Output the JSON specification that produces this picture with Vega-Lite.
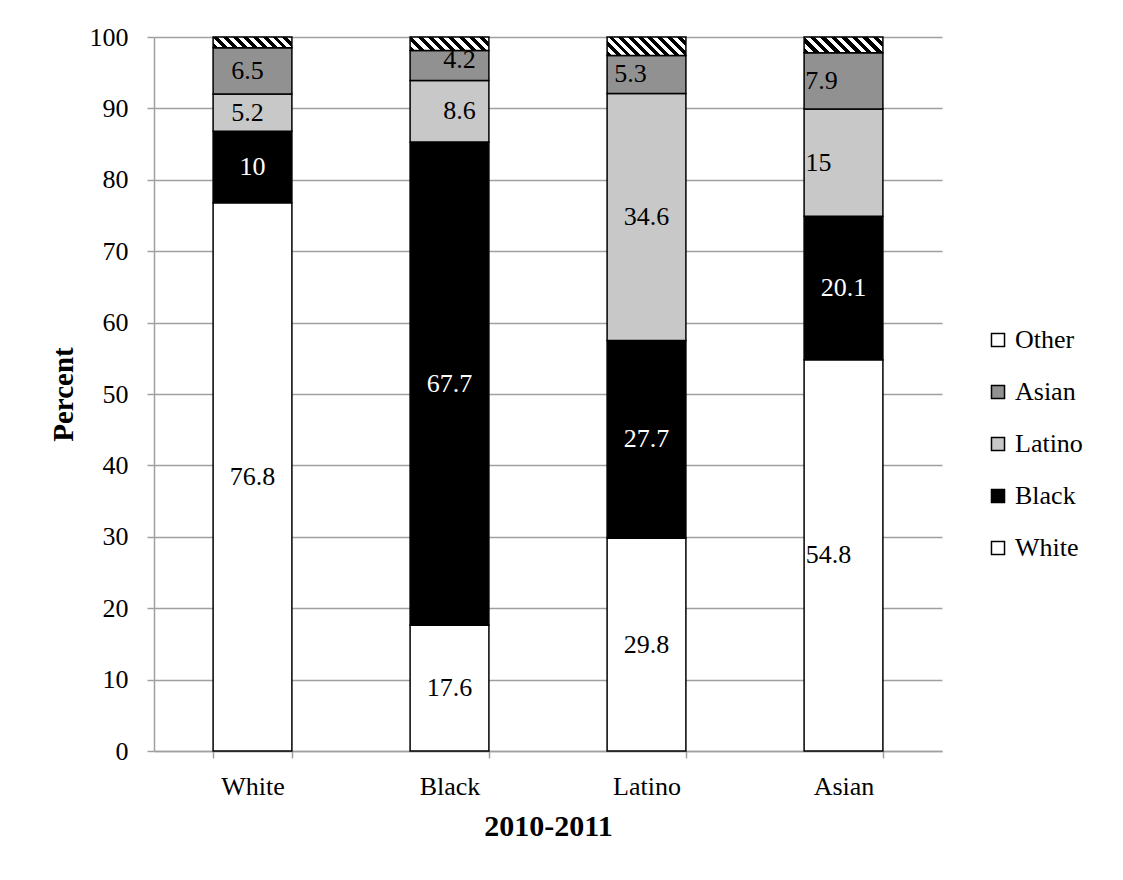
{
  "$schema": "https://vega.github.io/schema/vega-lite/v6.json",
  "width": 788,
  "height": 714,
  "autosize": {"type": "none"},
  "padding": {"left": 154, "top": 37, "right": 181, "bottom": 129},
  "background": "white",
  "config": {
    "font": "Liberation Serif",
    "view": {"stroke": null},
    "axis": {
      "labelFont": "Liberation Serif",
      "labelFontSize": 26,
      "labelColor": "#000000",
      "titleFont": "Liberation Serif",
      "titleFontWeight": "bold",
      "titleColor": "#000000",
      "domainColor": "#a0a0a0",
      "domainWidth": 1.5,
      "tickColor": "#a0a0a0",
      "tickWidth": 1.5,
      "tickSize": 7,
      "gridColor": "#a0a0a0",
      "gridWidth": 1.5
    }
  },
  "data": {
    "values": [
      {"cat": "White", "group": "White", "pct": 76.8},
      {"cat": "White", "group": "Black", "pct": 10},
      {"cat": "White", "group": "Latino", "pct": 5.2},
      {"cat": "White", "group": "Asian", "pct": 6.5},
      {"cat": "White", "group": "Other", "pct": 1.5},
      {"cat": "Black", "group": "White", "pct": 17.6},
      {"cat": "Black", "group": "Black", "pct": 67.7},
      {"cat": "Black", "group": "Latino", "pct": 8.6},
      {"cat": "Black", "group": "Asian", "pct": 4.2},
      {"cat": "Black", "group": "Other", "pct": 1.9},
      {"cat": "Latino", "group": "White", "pct": 29.8},
      {"cat": "Latino", "group": "Black", "pct": 27.7},
      {"cat": "Latino", "group": "Latino", "pct": 34.6},
      {"cat": "Latino", "group": "Asian", "pct": 5.3},
      {"cat": "Latino", "group": "Other", "pct": 2.6},
      {"cat": "Asian", "group": "White", "pct": 54.8},
      {"cat": "Asian", "group": "Black", "pct": 20.1},
      {"cat": "Asian", "group": "Latino", "pct": 15},
      {"cat": "Asian", "group": "Asian", "pct": 7.9},
      {"cat": "Asian", "group": "Other", "pct": 2.2}
    ]
  },
  "transform": [
    {"calculate": "indexof(['White','Black','Latino','Asian','Other'], datum.group)", "as": "k"},
    {"stack": "pct", "groupby": ["cat"], "sort": [{"field": "k", "order": "ascending"}], "as": ["y0", "y1"]},
    {"calculate": "(datum.y0 + datum.y1) / 2", "as": "ymid"}
  ],
  "encoding": {
    "x": {
      "field": "cat",
      "type": "nominal",
      "sort": ["White", "Black", "Latino", "Asian"],
      "scale": {"paddingInner": 0.6, "paddingOuter": 0.3},
      "axis": {
        "title": "2010-2011",
        "titleFontSize": 30,
        "titlePadding": 12,
        "labelAngle": 0,
        "labelPadding": 15,
        "tickBand": "extent",
        "grid": false
      }
    }
  },
  "layer": [
    {
      "mark": {"type": "bar", "stroke": "#000000", "strokeWidth": 1.5},
      "encoding": {
        "y": {
          "field": "y0",
          "type": "quantitative",
          "scale": {"domain": [0, 100], "nice": false},
          "axis": {
            "title": "Percent",
            "titleFontSize": 29,
            "titlePadding": 11,
            "labelPadding": 19,
            "values": [0, 10, 20, 30, 40, 50, 60, 70, 80, 90, 100],
            "grid": true
          }
        },
        "y2": {"field": "y1"},
        "fill": {
          "field": "group",
          "type": "nominal",
          "scale": {
            "domain": ["White", "Black", "Latino", "Asian", "Other"],
            "range": ["#ffffff", "#000000", "#c8c8c8", "#919191", "#ffffff"]
          },
          "legend": {
            "title": null,
            "orient": "none",
            "legendX": 831,
            "legendY": 290,
            "padding": 0,
            "values": ["Other", "Asian", "Latino", "Black", "White"],
            "symbolType": "square",
            "symbolSize": 170,
            "symbolStrokeColor": "#000000",
            "symbolStrokeWidth": 1.5,
            "labelFont": "Liberation Serif",
            "labelFontSize": 26,
            "labelColor": "#000000",
            "labelOffset": 4,
            "rowPadding": 26
          },
          "condition": [
            {
              "test": "datum.group === 'Other' && datum.cat === 'White'",
              "value": {
                "gradient": "linear", "x1": 0, "y1": 1, "x2": 1.1153, "y2": 0.8484,
                "stops": [
                  {"offset": 0, "color": "#000000"}, {"offset": 0.0556, "color": "#000000"}, {"offset": 0.0556, "color": "#ffffff"}, {"offset": 0.1111, "color": "#ffffff"},
                  {"offset": 0.1111, "color": "#000000"}, {"offset": 0.1667, "color": "#000000"}, {"offset": 0.1667, "color": "#ffffff"}, {"offset": 0.2222, "color": "#ffffff"},
                  {"offset": 0.2222, "color": "#000000"}, {"offset": 0.2778, "color": "#000000"}, {"offset": 0.2778, "color": "#ffffff"}, {"offset": 0.3333, "color": "#ffffff"},
                  {"offset": 0.3333, "color": "#000000"}, {"offset": 0.3889, "color": "#000000"}, {"offset": 0.3889, "color": "#ffffff"}, {"offset": 0.4444, "color": "#ffffff"},
                  {"offset": 0.4444, "color": "#000000"}, {"offset": 0.5, "color": "#000000"}, {"offset": 0.5, "color": "#ffffff"}, {"offset": 0.5556, "color": "#ffffff"},
                  {"offset": 0.5556, "color": "#000000"}, {"offset": 0.6111, "color": "#000000"}, {"offset": 0.6111, "color": "#ffffff"}, {"offset": 0.6667, "color": "#ffffff"},
                  {"offset": 0.6667, "color": "#000000"}, {"offset": 0.7222, "color": "#000000"}, {"offset": 0.7222, "color": "#ffffff"}, {"offset": 0.7778, "color": "#ffffff"},
                  {"offset": 0.7778, "color": "#000000"}, {"offset": 0.8333, "color": "#000000"}, {"offset": 0.8333, "color": "#ffffff"}, {"offset": 0.8889, "color": "#ffffff"},
                  {"offset": 0.8889, "color": "#000000"}, {"offset": 0.9444, "color": "#000000"}, {"offset": 0.9444, "color": "#ffffff"}, {"offset": 1, "color": "#ffffff"}
                ]
              }
            },
            {
              "test": "datum.group === 'Other' && datum.cat === 'Black'",
              "value": {
                "gradient": "linear", "x1": 0, "y1": 1, "x2": 1.1384, "y2": 0.804,
                "stops": [
                  {"offset": 0, "color": "#000000"}, {"offset": 0.0556, "color": "#000000"}, {"offset": 0.0556, "color": "#ffffff"}, {"offset": 0.1111, "color": "#ffffff"},
                  {"offset": 0.1111, "color": "#000000"}, {"offset": 0.1667, "color": "#000000"}, {"offset": 0.1667, "color": "#ffffff"}, {"offset": 0.2222, "color": "#ffffff"},
                  {"offset": 0.2222, "color": "#000000"}, {"offset": 0.2778, "color": "#000000"}, {"offset": 0.2778, "color": "#ffffff"}, {"offset": 0.3333, "color": "#ffffff"},
                  {"offset": 0.3333, "color": "#000000"}, {"offset": 0.3889, "color": "#000000"}, {"offset": 0.3889, "color": "#ffffff"}, {"offset": 0.4444, "color": "#ffffff"},
                  {"offset": 0.4444, "color": "#000000"}, {"offset": 0.5, "color": "#000000"}, {"offset": 0.5, "color": "#ffffff"}, {"offset": 0.5556, "color": "#ffffff"},
                  {"offset": 0.5556, "color": "#000000"}, {"offset": 0.6111, "color": "#000000"}, {"offset": 0.6111, "color": "#ffffff"}, {"offset": 0.6667, "color": "#ffffff"},
                  {"offset": 0.6667, "color": "#000000"}, {"offset": 0.7222, "color": "#000000"}, {"offset": 0.7222, "color": "#ffffff"}, {"offset": 0.7778, "color": "#ffffff"},
                  {"offset": 0.7778, "color": "#000000"}, {"offset": 0.8333, "color": "#000000"}, {"offset": 0.8333, "color": "#ffffff"}, {"offset": 0.8889, "color": "#ffffff"},
                  {"offset": 0.8889, "color": "#000000"}, {"offset": 0.9444, "color": "#000000"}, {"offset": 0.9444, "color": "#ffffff"}, {"offset": 1, "color": "#ffffff"}
                ]
              }
            },
            {
              "test": "datum.group === 'Other' && datum.cat === 'Latino'",
              "value": {
                "gradient": "linear", "x1": 0, "y1": 1, "x2": 1.1706, "y2": 0.7242,
                "stops": [
                  {"offset": 0, "color": "#000000"}, {"offset": 0.05, "color": "#000000"}, {"offset": 0.05, "color": "#ffffff"}, {"offset": 0.1, "color": "#ffffff"},
                  {"offset": 0.1, "color": "#000000"}, {"offset": 0.15, "color": "#000000"}, {"offset": 0.15, "color": "#ffffff"}, {"offset": 0.2, "color": "#ffffff"},
                  {"offset": 0.2, "color": "#000000"}, {"offset": 0.25, "color": "#000000"}, {"offset": 0.25, "color": "#ffffff"}, {"offset": 0.3, "color": "#ffffff"},
                  {"offset": 0.3, "color": "#000000"}, {"offset": 0.35, "color": "#000000"}, {"offset": 0.35, "color": "#ffffff"}, {"offset": 0.4, "color": "#ffffff"},
                  {"offset": 0.4, "color": "#000000"}, {"offset": 0.45, "color": "#000000"}, {"offset": 0.45, "color": "#ffffff"}, {"offset": 0.5, "color": "#ffffff"},
                  {"offset": 0.5, "color": "#000000"}, {"offset": 0.55, "color": "#000000"}, {"offset": 0.55, "color": "#ffffff"}, {"offset": 0.6, "color": "#ffffff"},
                  {"offset": 0.6, "color": "#000000"}, {"offset": 0.65, "color": "#000000"}, {"offset": 0.65, "color": "#ffffff"}, {"offset": 0.7, "color": "#ffffff"},
                  {"offset": 0.7, "color": "#000000"}, {"offset": 0.75, "color": "#000000"}, {"offset": 0.75, "color": "#ffffff"}, {"offset": 0.8, "color": "#ffffff"},
                  {"offset": 0.8, "color": "#000000"}, {"offset": 0.85, "color": "#000000"}, {"offset": 0.85, "color": "#ffffff"}, {"offset": 0.9, "color": "#ffffff"},
                  {"offset": 0.9, "color": "#000000"}, {"offset": 0.95, "color": "#000000"}, {"offset": 0.95, "color": "#ffffff"}, {"offset": 1, "color": "#ffffff"}
                ]
              }
            },
            {
              "test": "datum.group === 'Other' && datum.cat === 'Asian'",
              "value": {
                "gradient": "linear", "x1": 0, "y1": 1, "x2": 1.1535, "y2": 0.77,
                "stops": [
                  {"offset": 0, "color": "#000000"}, {"offset": 0.0556, "color": "#000000"}, {"offset": 0.0556, "color": "#ffffff"}, {"offset": 0.1111, "color": "#ffffff"},
                  {"offset": 0.1111, "color": "#000000"}, {"offset": 0.1667, "color": "#000000"}, {"offset": 0.1667, "color": "#ffffff"}, {"offset": 0.2222, "color": "#ffffff"},
                  {"offset": 0.2222, "color": "#000000"}, {"offset": 0.2778, "color": "#000000"}, {"offset": 0.2778, "color": "#ffffff"}, {"offset": 0.3333, "color": "#ffffff"},
                  {"offset": 0.3333, "color": "#000000"}, {"offset": 0.3889, "color": "#000000"}, {"offset": 0.3889, "color": "#ffffff"}, {"offset": 0.4444, "color": "#ffffff"},
                  {"offset": 0.4444, "color": "#000000"}, {"offset": 0.5, "color": "#000000"}, {"offset": 0.5, "color": "#ffffff"}, {"offset": 0.5556, "color": "#ffffff"},
                  {"offset": 0.5556, "color": "#000000"}, {"offset": 0.6111, "color": "#000000"}, {"offset": 0.6111, "color": "#ffffff"}, {"offset": 0.6667, "color": "#ffffff"},
                  {"offset": 0.6667, "color": "#000000"}, {"offset": 0.7222, "color": "#000000"}, {"offset": 0.7222, "color": "#ffffff"}, {"offset": 0.7778, "color": "#ffffff"},
                  {"offset": 0.7778, "color": "#000000"}, {"offset": 0.8333, "color": "#000000"}, {"offset": 0.8333, "color": "#ffffff"}, {"offset": 0.8889, "color": "#ffffff"},
                  {"offset": 0.8889, "color": "#000000"}, {"offset": 0.9444, "color": "#000000"}, {"offset": 0.9444, "color": "#ffffff"}, {"offset": 1, "color": "#ffffff"}
                ]
              }
            }
          ]
        }
      }
    },
    {
      "transform": [{"filter": "datum.group !== 'Other'"}],
      "mark": {
        "type": "text",
        "font": "Liberation Serif",
        "fontSize": 26,
        "baseline": "middle",
        "align": "center",
        "dx": {"expr": "datum.cat === 'Black' && (datum.group === 'Asian' || datum.group === 'Latino') ? 10 : datum.cat === 'Latino' && datum.group === 'Asian' ? -16 : datum.cat === 'Asian' && datum.group === 'Asian' ? -22 : datum.cat === 'Asian' && datum.group === 'Latino' ? -25 : datum.cat === 'Asian' && datum.group === 'White' ? -15 : datum.cat === 'White' && (datum.group === 'Asian' || datum.group === 'Latino') ? -5 : 0"},
        "dy": {"expr": "datum.cat === 'Black' && datum.group === 'Asian' ? -6 : 0"}
      },
      "encoding": {
        "y": {"field": "ymid", "type": "quantitative"},
        "text": {"field": "pct", "type": "quantitative"},
        "color": {
          "condition": {"test": "datum.group === 'Black'", "value": "#ffffff"},
          "value": "#000000"
        }
      }
    }
  ]
}
